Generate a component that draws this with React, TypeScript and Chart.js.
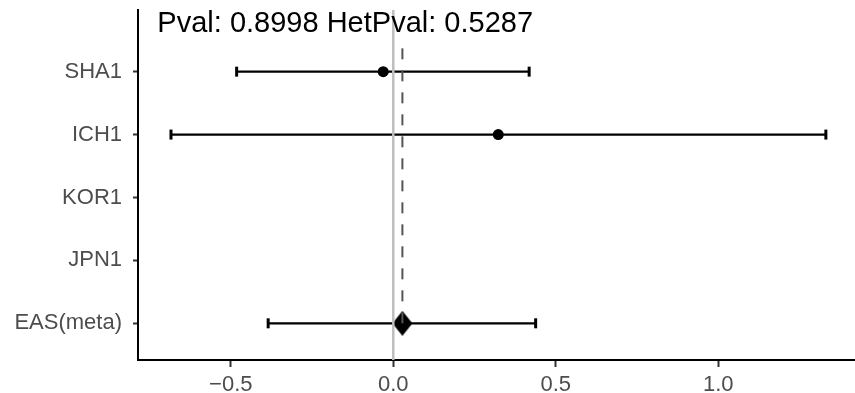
import React, { useEffect, useRef } from "react";
import { Chart, registerables } from "chart.js";

Chart.register(...registerables);

// ---- data ----
const studies = ["SHA1", "ICH1", "KOR1", "JPN1", "EAS(meta)"];
const estimates: (number | null)[] = [-0.031, 0.323, null, null, 0.028];
const lowerCI: (number | null)[] = [-0.482, -0.684, null, null, -0.385];
const upperCI: (number | null)[] = [0.418, 1.331, null, null, 0.438];
const isMeta = [false, false, false, false, true];
const metaEstimate = 0.028;
const xTicks = [-0.5, 0.0, 0.5, 1.0];
const annotationText = "Pval: 0.8998 HetPval: 0.5287";

// axis ranges / annotation placement (data units)
const xMin = -0.7855;
const xMax = 1.4206;
const yMin = 0.417;
const yMax = 5.98;
const annotX = -0.148;
const annotY = 5.636;
const dashTop = 5.5;

const FONT = '"Liberation Sans", Arial, Helvetica, sans-serif';

const yOf = (i: number) => studies.length - i;

export default function App() {
  const ref = useRef<HTMLCanvasElement | null>(null);

  useEffect(() => {
    if (!ref.current) return;

    // diamond marker image
    const dia = document.createElement("canvas");
    dia.width = 20;
    dia.height = 25;
    const dctx = dia.getContext("2d")!;
    dctx.fillStyle = "#000";
    dctx.beginPath();
    dctx.moveTo(10, 0);
    dctx.lineTo(20, 12.5);
    dctx.lineTo(10, 25);
    dctx.lineTo(0, 12.5);
    dctx.closePath();
    dctx.fill();

    const datasets: any[] = [];

    // reference lines (on top)
    datasets.push({
      data: [
        { x: 0, y: yMin },
        { x: 0, y: yMax },
      ],
      showLine: true,
      borderColor: "#BEBEBE",
      borderWidth: 2.5,
      pointRadius: 0,
      order: 0,
    });
    datasets.push({
      data: [
        { x: metaEstimate, y: 1 },
        { x: metaEstimate, y: dashTop },
      ],
      showLine: true,
      borderColor: "#555555",
      borderWidth: 2,
      borderDash: [11, 11],
      pointRadius: 0,
      order: 0,
    });

    // study points
    const pts = studies
      .map((_, i) => ({ i }))
      .filter(({ i }) => estimates[i] !== null && !isMeta[i])
      .map(({ i }) => ({ x: estimates[i] as number, y: yOf(i) }));
    datasets.push({
      data: pts,
      pointStyle: "circle",
      pointRadius: 5.5,
      pointBackgroundColor: "#000",
      pointBorderWidth: 0,
      order: 1,
    });

    // meta diamond
    const metaPts = studies
      .map((_, i) => ({ i }))
      .filter(({ i }) => estimates[i] !== null && isMeta[i])
      .map(({ i }) => ({ x: estimates[i] as number, y: yOf(i) }));
    datasets.push({
      data: metaPts,
      pointStyle: dia,
      pointRadius: 1,
      order: 1,
    });

    // error bars + caps
    const caps: any[] = [];
    studies.forEach((_, i) => {
      const lo = lowerCI[i];
      const hi = upperCI[i];
      if (lo === null || hi === null) return;
      datasets.push({
        data: [
          { x: lo, y: yOf(i) },
          { x: hi, y: yOf(i) },
        ],
        showLine: true,
        borderColor: "#000",
        borderWidth: 2.2,
        pointRadius: 0,
        order: 3,
      });
      caps.push({ x: lo, y: yOf(i) }, { x: hi, y: yOf(i) });
    });
    datasets.push({
      data: caps,
      pointStyle: "line",
      pointRotation: 90,
      pointRadius: 5,
      pointBorderWidth: 3,
      pointBorderColor: "#000",
      order: 2,
    });

    const annotPlugin = {
      id: "annot",
      afterDatasetsDraw(chart: any) {
        const { ctx, scales } = chart;
        ctx.save();
        ctx.font = `29px ${FONT}`;
        ctx.fillStyle = "#000";
        ctx.textAlign = "center";
        ctx.textBaseline = "alphabetic";
        ctx.fillText(
          annotationText,
          scales.x.getPixelForValue(annotX),
          scales.y.getPixelForValue(annotY)
        );
        ctx.restore();
      },
    };

    const chart = new Chart(ref.current, {
      type: "scatter",
      data: { datasets },
      options: {
        responsive: false,
        animation: false,
        events: [],
        layout: {
          autoPadding: false,
          padding: { top: 10, left: 0, right: 0, bottom: 0 },
        },
        plugins: {
          legend: { display: false },
          tooltip: { enabled: false },
        },
        scales: {
          x: {
            type: "linear",
            position: "bottom",
            min: xMin,
            max: xMax,
            afterBuildTicks: (s: any) => {
              s.ticks = xTicks.map((v) => ({ value: v }));
            },
            afterFit: (s: any) => {
              s.height = 33;
              s.paddingLeft = 0;
              s.paddingRight = 0;
              s.paddingTop = 0;
              s.paddingBottom = 0;
            },
            grid: {
              drawOnChartArea: false,
              drawTicks: true,
              tickLength: 7,
              tickColor: "#333333",
              tickWidth: 2,
            },
            border: { display: true, color: "#000", width: 2 },
            ticks: {
              color: "#4D4D4D",
              font: { size: 22, family: FONT },
              padding: 5,
              autoSkip: false,
              maxRotation: 0,
              callback: (v: any) =>
                (v < 0 ? "\u2212" : "") + Math.abs(Number(v)).toFixed(1),
            },
          },
          y: {
            type: "linear",
            min: yMin,
            max: yMax,
            afterBuildTicks: (s: any) => {
              s.ticks = studies.map((_, i) => ({ value: yOf(i) }));
            },
            afterFit: (s: any) => {
              s.width = 138;
              s.paddingLeft = 0;
              s.paddingRight = 0;
              s.paddingTop = 0;
              s.paddingBottom = 0;
            },
            grid: {
              drawOnChartArea: false,
              drawTicks: true,
              tickLength: 5,
              tickColor: "#333333",
              tickWidth: 2,
            },
            border: { display: true, color: "#000", width: 2 },
            ticks: {
              color: "#4D4D4D",
              font: { size: 22, family: FONT },
              padding: 11,
              autoSkip: false,
              callback: (v: any) => studies[studies.length - Number(v)] ?? "",
            },
          },
        },
      },
      plugins: [annotPlugin],
    });

    return () => chart.destroy();
  }, []);

  return (
    <div
      style={{
        position: "absolute",
        left: 0,
        top: 0,
        width: 855,
        height: 393,
        background: "#fff",
      }}
    >
      <canvas ref={ref} width={855} height={393} />
    </div>
  );
}
